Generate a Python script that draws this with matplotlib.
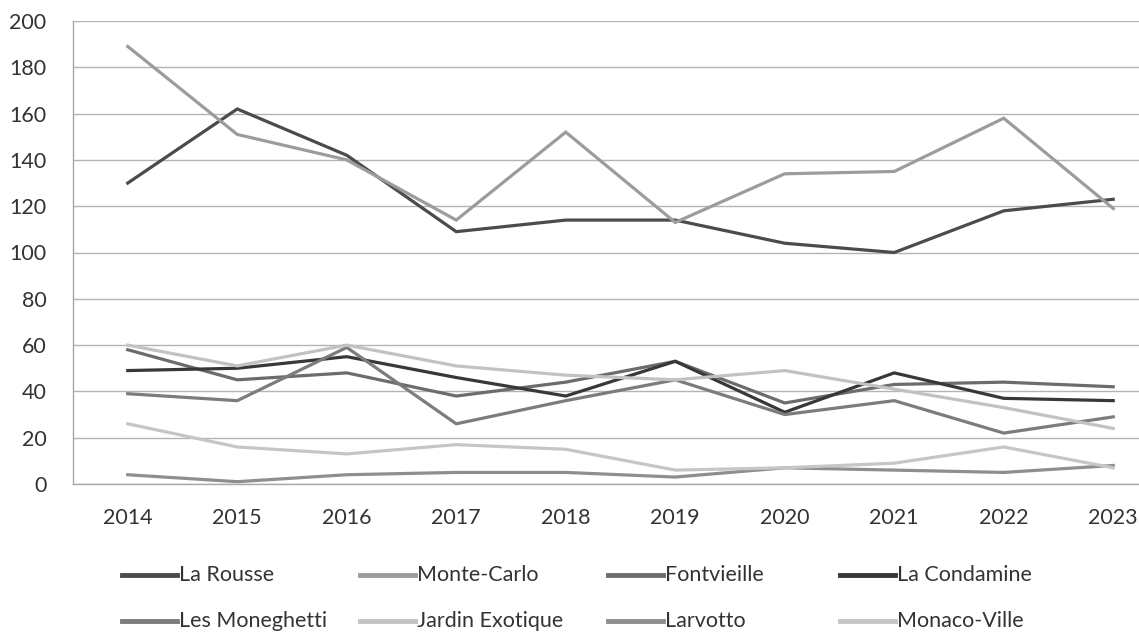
#!/usr/bin/env python3
"""Births per district of Monaco, 2014-2023, drawn as grey line chart."""
import matplotlib
matplotlib.use("Agg")
import matplotlib.pyplot as plt
from matplotlib.lines import Line2D

plt.rcParams["font.family"] = ["Lato", "DejaVu Sans"]

years = ["2014", "2015", "2016", "2017", "2018", "2019", "2020", "2021", "2022", "2023"]

la_rousse = [130, 162, 142, 109, 114, 114, 104, 100, 118, 123]
monte_carlo = [189, 151, 140, 114, 152, 113, 134, 135, 158, 119]
fontvieille = [58, 45, 48, 38, 44, 53, 35, 43, 44, 42]
la_condamine = [49, 50, 55, 46, 38, 53, 31, 48, 37, 36]
les_moneghetti = [39, 36, 59, 26, 36, 45, 30, 36, 22, 29]
jardin_exotique = [60, 51, 60, 51, 47, 45, 49, 41, 33, 24]
larvotto = [4, 1, 4, 5, 5, 3, 7, 6, 5, 8]
monaco_ville = [26, 16, 13, 17, 15, 6, 7, 9, 16, 7]

series = [
    ("La Rousse", la_rousse, "#4b4b4b"),
    ("Monte-Carlo", monte_carlo, "#9c9c9c"),
    ("Fontvieille", fontvieille, "#6c6c6c"),
    ("La Condamine", la_condamine, "#383838"),
    ("Les Moneghetti", les_moneghetti, "#7c7c7c"),
    ("Jardin Exotique", jardin_exotique, "#c2c2c2"),
    ("Larvotto", larvotto, "#8e8e8e"),
    ("Monaco-Ville", monaco_ville, "#c6c6c6"),
]

W, H = 1139, 634
fig = plt.figure(figsize=(W / 100, H / 100), dpi=100)
# plot area runs past the right edge, like a cropped screenshot
ax = fig.add_axes([73 / W, 1 - 484 / H, 1095 / W, 463 / H])

x = range(len(years))
for name, vals, color in series:
    ax.plot(x, vals, color=color, linewidth=2.3, solid_joinstyle="miter")

ax.set_xlim(-0.5, len(years) - 0.5)
ax.set_ylim(0, 200)
ax.set_yticks(range(0, 201, 20))
ax.set_xticks(list(x))
ax.set_xticklabels(years)
ax.grid(True, axis="y", color="#b4b4b4", linewidth=1)
ax.set_axisbelow(True)
for side in ("top", "right"):
    ax.spines[side].set_visible(False)
for side in ("left", "bottom"):
    ax.spines[side].set_color("#a8a8a8")
    ax.spines[side].set_linewidth(1)
ax.tick_params(axis="both", length=0, labelsize=15.5, colors="#333333")
ax.tick_params(axis="y", pad=19)
ax.tick_params(axis="x", pad=17)

# legend: two rows of four, laid out in pixel columns
col_x = [122, 360, 608, 840]
row_y = [575, 621]
for i, (name, vals, color) in enumerate(series):
    cx = col_x[i % 4]
    cy = row_y[i // 4]
    fig.add_artist(Line2D([cx / W, (cx + 55) / W], [1 - cy / H, 1 - cy / H],
                          color=color, linewidth=3.5, transform=fig.transFigure))
    fig.text((cx + 57) / W, 1 - cy / H, name, fontsize=15.5, color="#333333",
             va="center", ha="left")

fig.savefig("out.png", dpi=100)
